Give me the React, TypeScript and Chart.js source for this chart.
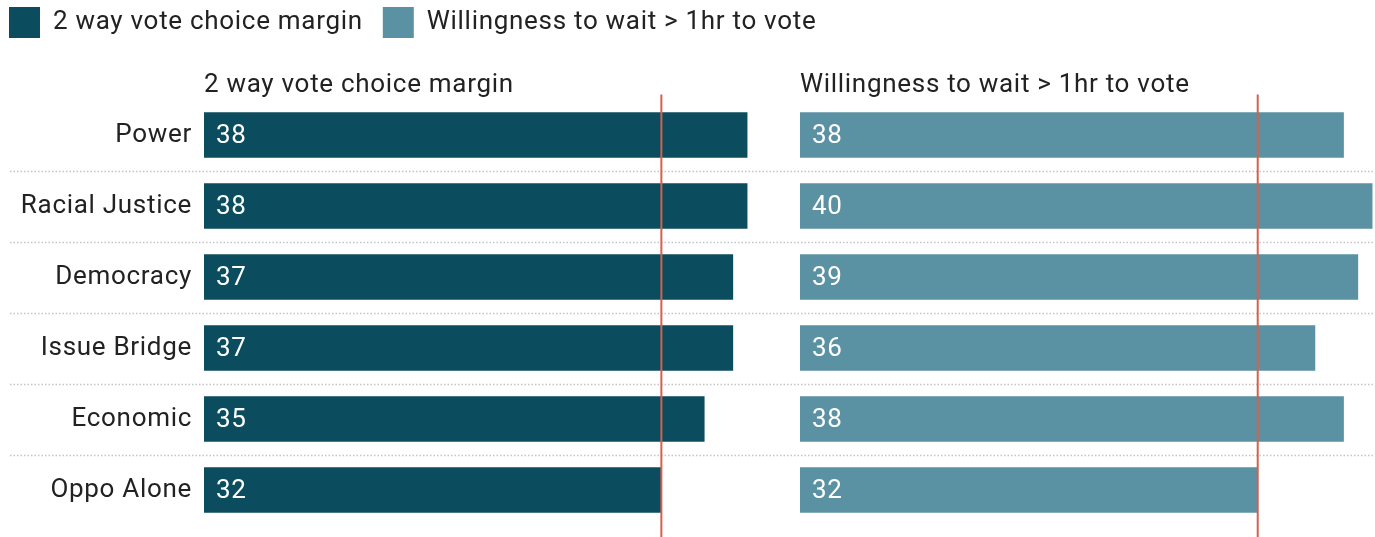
import React, { useEffect, useRef } from "react";
import { Chart, registerables } from "chart.js";

Chart.register(...registerables);

const categories = ["Power", "Racial Justice", "Democracy", "Issue Bridge", "Economic", "Oppo Alone"];
const voteMargin = [38, 38, 37, 37, 35, 32];
const waitWillingness = [38, 40, 39, 36, 38, 32];
const seriesNames = ["2 way vote choice margin", "Willingness to wait > 1hr to vote"];
const referenceValues = [32, 32];
const axisMax = [41.7, 40.2];

const FONT = "Roboto";
const FS = 26;
const SPACING = "0.7px";
const TEXT = "#222222";
const DARK = "#0b4d5e";
const LIGHT = "#5a92a3";
const RED = "#d4604f";
const SEP = "#c4c4c4";

const spacingPlugin = {
  id: "spacing",
  beforeUpdate(chart: any) {
    chart.ctx.letterSpacing = SPACING;
  },
  beforeLayout(chart: any) {
    chart.ctx.letterSpacing = SPACING;
  },
  beforeDraw(chart: any) {
    chart.ctx.letterSpacing = SPACING;
  },
};

const overlayPlugin = {
  id: "overlay",
  beforeDatasetsDraw(chart: any) {
    const y = chart.scales.y;
    const ctx = chart.ctx;
    ctx.save();
    ctx.strokeStyle = SEP;
    ctx.lineWidth = 1.5;
    ctx.setLineDash([1.5, 2]);
    for (let i = 0; i < categories.length - 1; i++) {
      const yy = Math.round((y.getPixelForValue(i) + y.getPixelForValue(i + 1)) / 2) + 0.5;
      ctx.beginPath();
      ctx.moveTo(10, yy);
      ctx.lineTo(chart.width, yy);
      ctx.stroke();
    }
    ctx.restore();
  },
  afterDatasetsDraw(chart: any) {
    const ctx = chart.ctx;
    ctx.save();
    ctx.font = `${FS}px ${FONT}`;
    ctx.fillStyle = "#ffffff";
    ctx.textAlign = "left";
    ctx.textBaseline = "middle";
    chart.data.datasets.forEach((ds: any, di: number) => {
      const meta = chart.getDatasetMeta(di);
      meta.data.forEach((bar: any, i: number) => {
        ctx.fillText(String(ds.data[i]), bar.base + 12, bar.y + 1);
      });
    });
    ctx.strokeStyle = RED;
    ctx.lineWidth = 2;
    ["x", "x2"].forEach((id, k) => {
      const s = chart.scales[id];
      const px = s.getPixelForValue(referenceValues[k]);
      ctx.beginPath();
      ctx.moveTo(px, chart.chartArea.top - 5);
      ctx.lineTo(px, chart.height);
      ctx.stroke();
    });
    ctx.restore();
  },
};

export default function App() {
  const ref = useRef<HTMLCanvasElement | null>(null);

  useEffect(() => {
    if (!ref.current) return;
    const chart = new Chart(ref.current, {
      type: "bar",
      data: {
        labels: categories,
        datasets: [
          {
            label: seriesNames[0],
            data: voteMargin,
            backgroundColor: DARK,
            borderWidth: 0,
            xAxisID: "x",
            barThickness: 45,
            grouped: false,
          } as any,
          {
            label: seriesNames[1],
            data: waitWillingness,
            backgroundColor: LIGHT,
            borderWidth: 0,
            xAxisID: "x2",
            barThickness: 45,
            grouped: false,
          } as any,
        ],
      },
      options: {
        indexAxis: "y",
        responsive: false,
        animation: false,
        events: [],
        layout: { padding: { top: -13, left: -11, right: 0, bottom: 11.5 } },
        plugins: {
          tooltip: { enabled: false },
          legend: {
            display: true,
            position: "top",
            align: "start",
            labels: {
              boxWidth: 31,
              boxHeight: 31,
              padding: 20,
              color: TEXT,
              font: { family: FONT, size: FS },
            },
          },
        },
        scales: {
          y: {
            type: "category",
            position: "left",
            grid: { display: false, drawTicks: false },
            border: { display: false },
            ticks: { color: TEXT, padding: 12, font: { family: FONT, size: FS } },
            afterFit: (s: any) => {
              s.width = 215;
              s.paddingTop = 0;
              s.paddingBottom = 0;
            },
          },
          x: {
            type: "linear",
            position: "top",
            stack: "panels",
            stackWeight: 596,
            weight: 1,
            min: 0,
            max: axisMax[0],
            grid: { display: false, drawTicks: false },
            border: { display: false },
            ticks: { display: false },
            title: {
              display: true,
              text: seriesNames[0],
              align: "start",
              color: TEXT,
              font: { family: FONT, size: FS, lineHeight: 1.1 },
              padding: { top: 22.7, bottom: 0.2 },
            },
          },
          x2: {
            type: "linear",
            position: "top",
            stack: "panels",
            stackWeight: 575,
            weight: 0,
            min: 0,
            max: axisMax[1],
            grid: { display: false, drawTicks: false },
            border: { display: false },
            ticks: { display: false },
            title: {
              display: true,
              text: seriesNames[1],
              align: "start",
              color: TEXT,
              font: { family: FONT, size: FS, lineHeight: 1.1 },
              padding: { top: 22.7, bottom: 0.2 },
            },
          },
        } as any,
      },
      plugins: [spacingPlugin, overlayPlugin],
    });
    return () => chart.destroy();
  }, []);

  return (
    <div style={{ position: "absolute", left: 0, top: 0, width: 1375, height: 537, background: "#ffffff" }}>
      <canvas ref={ref} width={1375} height={537} />
    </div>
  );
}
